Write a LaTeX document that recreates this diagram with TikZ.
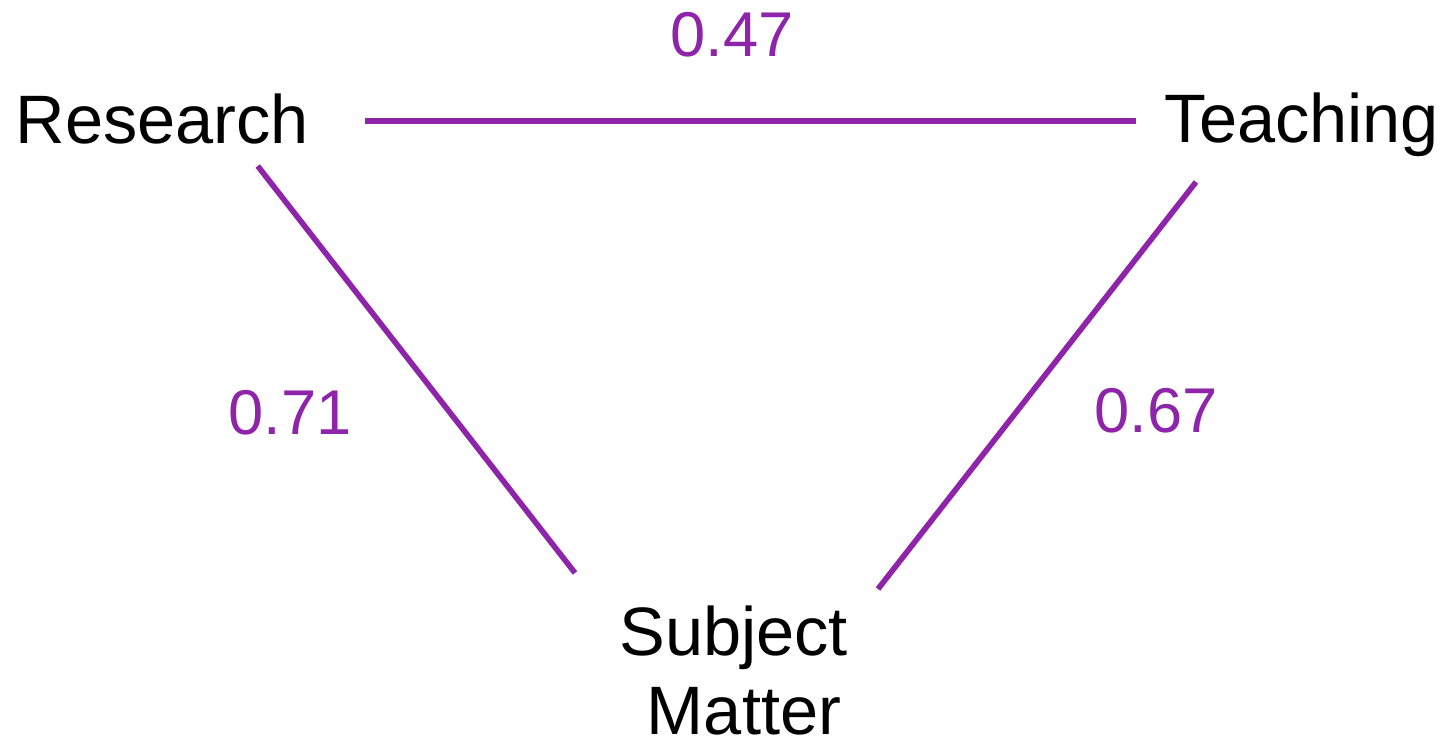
\documentclass[tikz,border=0pt]{standalone}
\usepackage{fontspec}
\setmainfont{Liberation Sans}
\definecolor{linkpurple}{RGB}{142,36,170}
\begin{document}
\begin{tikzpicture}[
    topic/.style={inner sep=0pt,font=\fontsize{19.5}{22.5}\selectfont},
    weight/.style={inner sep=0pt,anchor=base,text=linkpurple,font=\fontsize{18}{21}\selectfont},
    link/.style={draw=linkpurple,line width=1.6pt}]
  \useasboundingbox (0,0) rectangle (14.47,7.43);
  % the three topics
  \node[topic,anchor=base west] (research) at (0.15,5.99) {Research};
  \node[topic,anchor=base west] (teaching) at (11.64,6.00) {Teaching};
  \node[topic,anchor=north,align=center] (subject) at (7.44,1.38)
    {Subject\hspace*{0.3em}\\Matter};
  % correlations
  \draw[link] ([shift={(0.55,0.23)}]research.base east)
    -- ([shift={(-0.28,0.22)}]teaching.base west);
  \draw[link] ([shift={(-0.52,-0.22)}]research.base east)
    -- ([shift={(-1.69,0.32)}]subject.north);
  \draw[link] ([shift={(0.32,-0.39)}]teaching.base west)
    -- ([shift={(1.34,0.16)}]subject.north);
  \node[weight] (w47) at (7.32,6.86) {0.47};
  \node[weight] (w71) at (2.90,3.08) {0.71};
  \node[weight] (w67) at (11.56,3.10) {0.67};
\end{tikzpicture}
\end{document}
